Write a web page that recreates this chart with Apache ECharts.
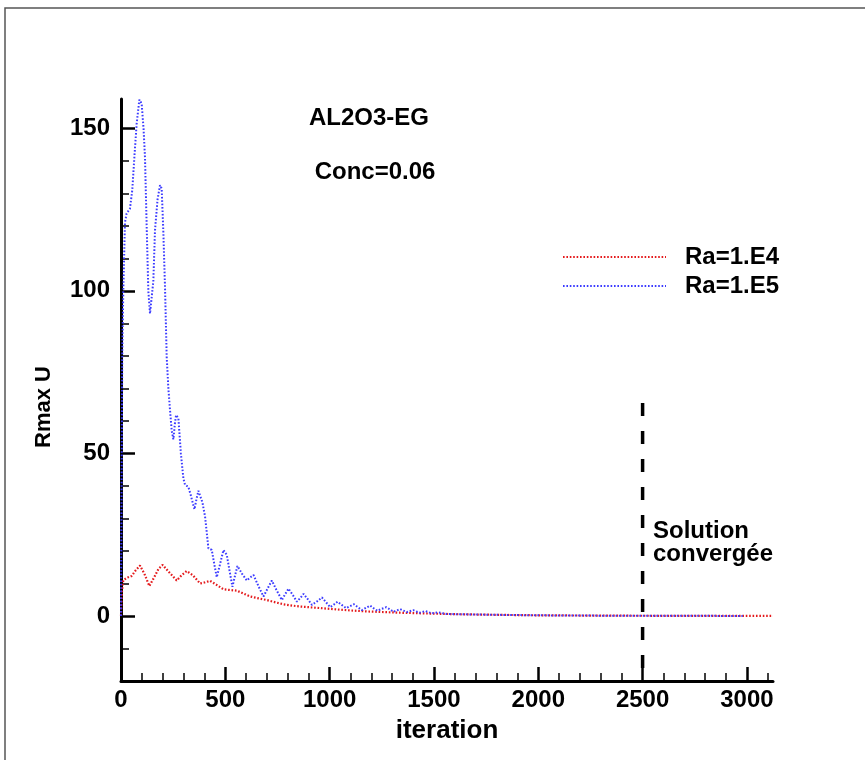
<!DOCTYPE html>
<html>
<head>
<meta charset="utf-8">
<script src="https://cdn.jsdelivr.net/npm/echarts@6/dist/echarts.min.js"></script>
<style>
html,body{margin:0;padding:0;background:#fff;}
#chart{width:865px;height:760px;}
</style>
</head>
<body>
<div id="chart"></div>
<script>
// ---- data ----
const seriesNames = ['Ra=1.E4', 'Ra=1.E5'];
const ra1e4 = [
  [0,0],[5,8],[11,11],[30,11.8],[51,12.3],[70,14],[91,15.5],[112,13],[136,9.2],[160,12],[180,14.5],
  [200,15.7],[230,13.5],[267,10.9],[290,12.5],[315,13.8],[345,12.5],[379,10],[400,10.3],[427,10.8],
  [460,9.5],[491,8.2],[520,8],[555,7.8],[590,6.8],[619,6],[660,5.4],[699,4.9],[740,4.2],[779,3.6],
  [820,3.2],[859,2.9],[940,2.5],[1018,2.1],[1100,1.7],[1178,1.4],[1260,1.2],[1338,1.0],[1450,0.8],
  [1600,0.55],[1800,0.35],[2000,0.2],[2300,0.1],[2600,0.05],[3125,0.02]
];
const ra1e5 = [
  [0,0],[3,40],[6,80],[11,100],[19,121],[27,123.8],[43,125.3],[54,131],[65,142],[75,151.4],[88,158.8],
  [99,157.6],[108,150],[115,141],[123,120],[131,100],[139,93],[147,92.5],[155,103],[163,118.6],[175,128],
  [187,132.5],[195,131.5],[203,118],[211,101],[219,79.7],[227,70],[235,63.3],[243,57],[251,54.3],[258,59],
  [264,61.8],[275,60.8],[287,50],[299,42.3],[307,40.3],[323,39.7],[335,37],[352,32.8],[362,36],[371,38.5],
  [379,38.5],[390,35],[403,30.5],[419,20.8],[435,20.3],[447,16],[459,11.9],[475,16],[491,20.3],[507,18.8],
  [520,14],[534,9],[545,12],[558,15.4],[580,13],[603,10.9],[618,11.8],[635,12.6],[660,9],[683,6],[703,8.5],
  [723,10.9],[745,8],[771,4.9],[785,6.5],[803,8.4],[823,6.5],[843,4.4],[860,5.6],[875,6.8],[895,5.2],
  [915,3.4],[940,4.5],[963,5.7],[983,4.2],[1003,2.7],[1020,3.5],[1038,4.4],[1058,3.4],[1079,2.4],[1098,3],
  [1117,3.6],[1135,2.7],[1154,1.8],[1174,2.5],[1194,3.2],[1210,2.4],[1229,1.6],[1250,2.2],[1271,2.7],
  [1290,2],[1306,1.3],[1338,2.1],[1370,1.2],[1400,1.8],[1430,1.0],[1460,1.5],[1490,0.8],[1520,1.1],
  [1560,0.6],[1650,0.5],[1800,0.35],[2000,0.2],[2300,0.1],[2600,0.05],[2980,0.02]
];
const convergenceLine = [[2500,65.5],[2500,-20]];
const xTickLabels = [0,500,1000,1500,2000,2500,3000];
const xMajorTicks = [500,1000,1500,2000,2500,3000];
const xMinorTicks = [100,200,300,400,600,700,800,900,1100,1200,1300,1400,1600,1700,1800,1900,
  2100,2200,2300,2400,2600,2700,2800,2900,3100];
const yTickLabels = [0,50,100,150];
const yMajorTicks = [0,50,100,150];
const yMinorTicks = [-10,10,20,30,40,60,70,80,90,110,120,130,140];
const titleText = 'AL2O3-EG';
const subtitleText = 'Conc=0.06';
const noteLines = ['Solution', 'convergée'];

// ---- chart ----
const FONT = '"Liberation Sans", Arial, Helvetica, sans-serif';
const chart = echarts.init(document.getElementById('chart'), null, {renderer: 'canvas'});
const X_MIN = 0, X_MAX = 3125, Y_MIN = -20, Y_MAX = 159;
const plain = v => String(v);

const option = {
  backgroundColor: '#fff',
  animation: false,
  textStyle: {fontFamily: FONT},
  grid: {left: 121, right: 92, top: 99, bottom: 79, containLabel: false},
  legend: {
    orient: 'vertical',
    left: 562, top: 245,
    padding: 0,
    itemWidth: 103, itemHeight: 14, itemGap: 5,
    data: seriesNames,
    itemStyle: {opacity: 0},
    textStyle: {fontFamily: FONT, fontSize: 24, fontWeight: 'bold', color: '#000', lineHeight: 23, padding: [0,0,0,14]}
  },
  xAxis: [
    {
      type: 'value', min: X_MIN, max: X_MAX, position: 'bottom',
      axisLine: {show: true, onZero: false, lineStyle: {color: '#000', width: 3}},
      splitLine: {show: false},
      axisTick: {show: true, inside: true, length: 14, customValues: xMajorTicks, lineStyle: {color: '#000', width: 2.5}},
      axisLabel: {show: true, customValues: xTickLabels, formatter: plain, margin: 7, fontFamily: FONT, fontSize: 24, fontWeight: 'bold', color: '#000'},
      name: 'iteration', nameLocation: 'middle', nameGap: 37,
      nameTextStyle: {fontFamily: FONT, fontSize: 26, fontWeight: 'bold', color: '#000'}
    },
    {
      type: 'value', min: X_MIN, max: X_MAX, position: 'bottom',
      axisLine: {show: false, onZero: false},
      axisTick: {show: true, inside: true, length: 8, customValues: xMinorTicks, lineStyle: {color: '#000', width: 1.5}},
      axisLabel: {show: false}, splitLine: {show: false}
    }
  ],
  yAxis: [
    {
      type: 'value', min: Y_MIN, max: Y_MAX, position: 'left',
      axisLine: {show: true, onZero: false, lineStyle: {color: '#000', width: 3}},
      splitLine: {show: false},
      axisTick: {show: true, inside: true, length: 14, customValues: yMajorTicks, lineStyle: {color: '#000', width: 2.5}},
      axisLabel: {show: true, customValues: yTickLabels, formatter: plain, margin: 11, fontFamily: FONT, fontSize: 24, fontWeight: 'bold', color: '#000'},
      name: 'Rmax U', nameLocation: 'middle', nameGap: 66, nameRotate: 90,
      nameTextStyle: {fontFamily: FONT, fontSize: 22, fontWeight: 'bold', color: '#000', padding: [0,34,0,0]}
    },
    {
      type: 'value', min: Y_MIN, max: Y_MAX, position: 'left',
      axisLine: {show: false, onZero: false},
      axisTick: {show: true, inside: true, length: 8, customValues: yMinorTicks, lineStyle: {color: '#000', width: 1.5}},
      axisLabel: {show: false}, splitLine: {show: false}
    }
  ],
  series: [
    {
      name: seriesNames[0], type: 'line', xAxisIndex: 0, yAxisIndex: 0,
      data: ra1e4, showSymbol: false, symbol: 'none', smooth: false,
      lineStyle: {color: '#e41a1c', width: 2.2, type: [1.6, 1.8]},
      itemStyle: {color: '#e41a1c'}, z: 3
    },
    {
      name: seriesNames[1], type: 'line', xAxisIndex: 0, yAxisIndex: 0,
      data: ra1e5, showSymbol: false, symbol: 'none', smooth: false,
      lineStyle: {color: '#3b3bff', width: 2, type: [1.6, 1.8]},
      itemStyle: {color: '#3b3bff'}, z: 4
    },
    {
      name: 'convergence', type: 'line', xAxisIndex: 0, yAxisIndex: 0,
      data: convergenceLine, showSymbol: false, symbol: 'none', silent: true,
      lineStyle: {color: '#000', width: 3.5, type: [13, 15]}, z: 2
    }
  ],
  graphic: [
    {type: 'rect', silent: true, z: -10, shape: {x: 5, y: 8, width: 900, height: 800},
      style: {fill: 'none', stroke: '#555', lineWidth: 1.5}},
    {type: 'text', x: 369, y: 118, silent: true,
      style: {text: titleText, font: 'bold 24px ' + FONT, fill: '#000', align: 'center', verticalAlign: 'middle'}},
    {type: 'text', x: 375, y: 172, silent: true,
      style: {text: subtitleText, font: 'bold 24px ' + FONT, fill: '#000', align: 'center', verticalAlign: 'middle'}},
    {type: 'text', x: 653, y: 531, silent: true,
      style: {text: noteLines[0], font: 'bold 24px ' + FONT, fill: '#000', align: 'left', verticalAlign: 'middle'}},
    {type: 'text', x: 653, y: 554, silent: true,
      style: {text: noteLines[1], font: 'bold 24px ' + FONT, fill: '#000', align: 'left', verticalAlign: 'middle'}}
  ]
};
chart.setOption(option);
</script>
</body>
</html>
